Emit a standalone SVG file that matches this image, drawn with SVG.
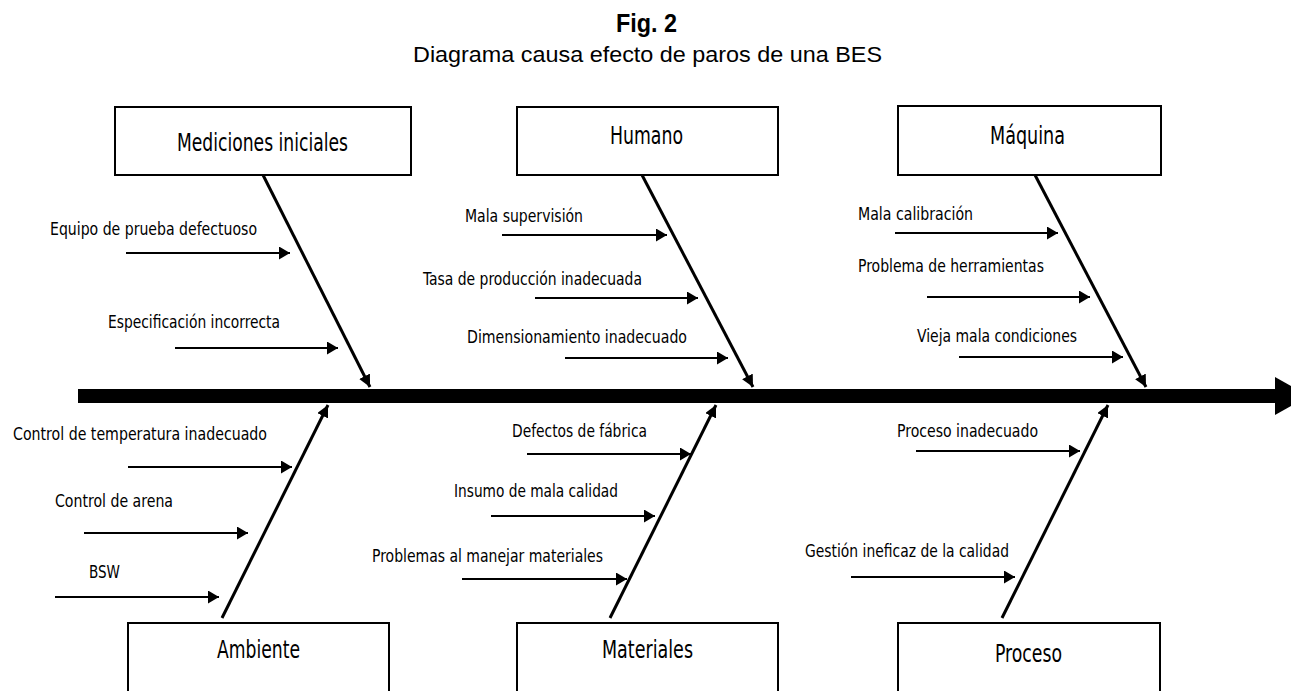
<svg xmlns="http://www.w3.org/2000/svg" width="1291" height="691" viewBox="0 0 1291 691">
<style>
.bg{fill:#fff}
.box rect{fill:#fff;stroke:#000;stroke-width:2}
.box text{font-family:"DejaVu Sans Condensed","Liberation Sans",sans-serif;font-size:25px;fill:#000}
.lbl{font-family:"DejaVu Sans Condensed","Liberation Sans",sans-serif;font-size:18px;fill:#000}
.cause{stroke:#000;stroke-width:2;fill:none;marker-end:url(#ah)}
.bone{stroke:#000;stroke-width:3;fill:none;marker-end:url(#bh)}
.title{font-family:"Liberation Sans",Arial,sans-serif;fill:#000}
</style>
<defs>
<marker id="ah" viewBox="0 0 11 13" refX="11" refY="6.5" markerWidth="11" markerHeight="13" markerUnits="userSpaceOnUse" orient="auto">
<path d="M0,0 L11,6.5 L0,13 z" fill="#000"/>
</marker>
<marker id="bh" viewBox="0 0 12 12" refX="12" refY="6" markerWidth="12" markerHeight="12" markerUnits="userSpaceOnUse" orient="auto">
<path d="M0,0 L12,6 L0,12 z" fill="#000"/>
</marker>
</defs>
<rect class="bg" x="0" y="0" width="1291" height="691"/>
<g id="title">
<text class="title" x="616" y="32" font-size="26" font-weight="bold" textLength="61" lengthAdjust="spacingAndGlyphs">Fig. 2</text>
<text class="title" x="413" y="62" font-size="22" textLength="469" lengthAdjust="spacingAndGlyphs">Diagrama causa efecto de paros de una BES</text>
</g>
<g id="spine">
<rect x="78" y="389" width="1199" height="14" fill="#000"/>
<polygon points="1275,377 1275,415 1309,396" fill="#000"/>
</g>
<g id="node-mediciones" class="box">
<rect x="115" y="107" width="296" height="68"/>
<text x="177" y="151" textLength="171" lengthAdjust="spacingAndGlyphs">Mediciones iniciales</text>
</g>
<g id="node-humano" class="box">
<rect x="517" y="107" width="261" height="68"/>
<text x="610" y="144" textLength="73" lengthAdjust="spacingAndGlyphs">Humano</text>
</g>
<g id="node-maquina" class="box">
<rect x="898" y="106" width="263" height="69"/>
<text x="990" y="144" textLength="75" lengthAdjust="spacingAndGlyphs">Máquina</text>
</g>
<g id="node-ambiente" class="box">
<rect x="128" y="623" width="261" height="80"/>
<text x="217" y="658" textLength="83" lengthAdjust="spacingAndGlyphs">Ambiente</text>
</g>
<g id="node-materiales" class="box">
<rect x="517" y="623" width="261" height="80"/>
<text x="602" y="658" textLength="91" lengthAdjust="spacingAndGlyphs">Materiales</text>
</g>
<g id="node-proceso" class="box">
<rect x="898" y="623" width="262" height="80"/>
<text x="995" y="662" textLength="67" lengthAdjust="spacingAndGlyphs">Proceso</text>
</g>
<g id="connectors">
<line class="bone" x1="263" y1="175" x2="370" y2="387"/>
<line class="bone" x1="642" y1="175" x2="753" y2="387"/>
<line class="bone" x1="1035" y1="175" x2="1146" y2="387"/>
<line class="bone" x1="222" y1="618" x2="328" y2="405"/>
<line class="bone" x1="610" y1="618" x2="716" y2="405"/>
<line class="bone" x1="1002" y1="618" x2="1108" y2="405"/>
<line class="cause" x1="126" y1="253" x2="290" y2="253"/>
<line class="cause" x1="175" y1="348" x2="338" y2="348"/>
<line class="cause" x1="502" y1="235" x2="667" y2="235"/>
<line class="cause" x1="535" y1="298" x2="698" y2="298"/>
<line class="cause" x1="565" y1="358" x2="728" y2="358"/>
<line class="cause" x1="895" y1="233" x2="1058" y2="233"/>
<line class="cause" x1="927" y1="297" x2="1090" y2="297"/>
<line class="cause" x1="959" y1="357" x2="1123" y2="357"/>
<line class="cause" x1="128" y1="467" x2="292" y2="467"/>
<line class="cause" x1="84" y1="533" x2="248" y2="533"/>
<line class="cause" x1="55" y1="597" x2="219" y2="597"/>
<line class="cause" x1="527" y1="454" x2="691" y2="454"/>
<line class="cause" x1="491" y1="516" x2="655" y2="516"/>
<line class="cause" x1="462" y1="579" x2="627" y2="579"/>
<line class="cause" x1="916" y1="451" x2="1080" y2="451"/>
<line class="cause" x1="851" y1="577" x2="1015" y2="577"/>
</g>
<g id="labels">
<text class="lbl" x="50" y="235" textLength="207" lengthAdjust="spacingAndGlyphs">Equipo de prueba defectuoso</text>
<text class="lbl" x="108" y="328" textLength="172" lengthAdjust="spacingAndGlyphs">Especificación incorrecta</text>
<text class="lbl" x="465" y="222" textLength="118" lengthAdjust="spacingAndGlyphs">Mala supervisión</text>
<text class="lbl" x="423" y="285" textLength="219" lengthAdjust="spacingAndGlyphs">Tasa de producción inadecuada</text>
<text class="lbl" x="467" y="343" textLength="220" lengthAdjust="spacingAndGlyphs">Dimensionamiento inadecuado</text>
<text class="lbl" x="858" y="220" textLength="115" lengthAdjust="spacingAndGlyphs">Mala calibración</text>
<text class="lbl" x="858" y="272" textLength="186" lengthAdjust="spacingAndGlyphs">Problema de herramientas</text>
<text class="lbl" x="917" y="342" textLength="160" lengthAdjust="spacingAndGlyphs">Vieja mala condiciones</text>
<text class="lbl" x="13" y="440" textLength="254" lengthAdjust="spacingAndGlyphs">Control de temperatura inadecuado</text>
<text class="lbl" x="55" y="507" textLength="118" lengthAdjust="spacingAndGlyphs">Control de arena</text>
<text class="lbl" x="89" y="578" textLength="31" lengthAdjust="spacingAndGlyphs">BSW</text>
<text class="lbl" x="512" y="437" textLength="135" lengthAdjust="spacingAndGlyphs">Defectos de fábrica</text>
<text class="lbl" x="454" y="497" textLength="164" lengthAdjust="spacingAndGlyphs">Insumo de mala calidad</text>
<text class="lbl" x="372" y="562" textLength="231" lengthAdjust="spacingAndGlyphs">Problemas al manejar materiales</text>
<text class="lbl" x="897" y="437" textLength="141" lengthAdjust="spacingAndGlyphs">Proceso inadecuado</text>
<text class="lbl" x="805" y="557" textLength="204" lengthAdjust="spacingAndGlyphs">Gestión ineficaz de la calidad</text>
</g>
</svg>
